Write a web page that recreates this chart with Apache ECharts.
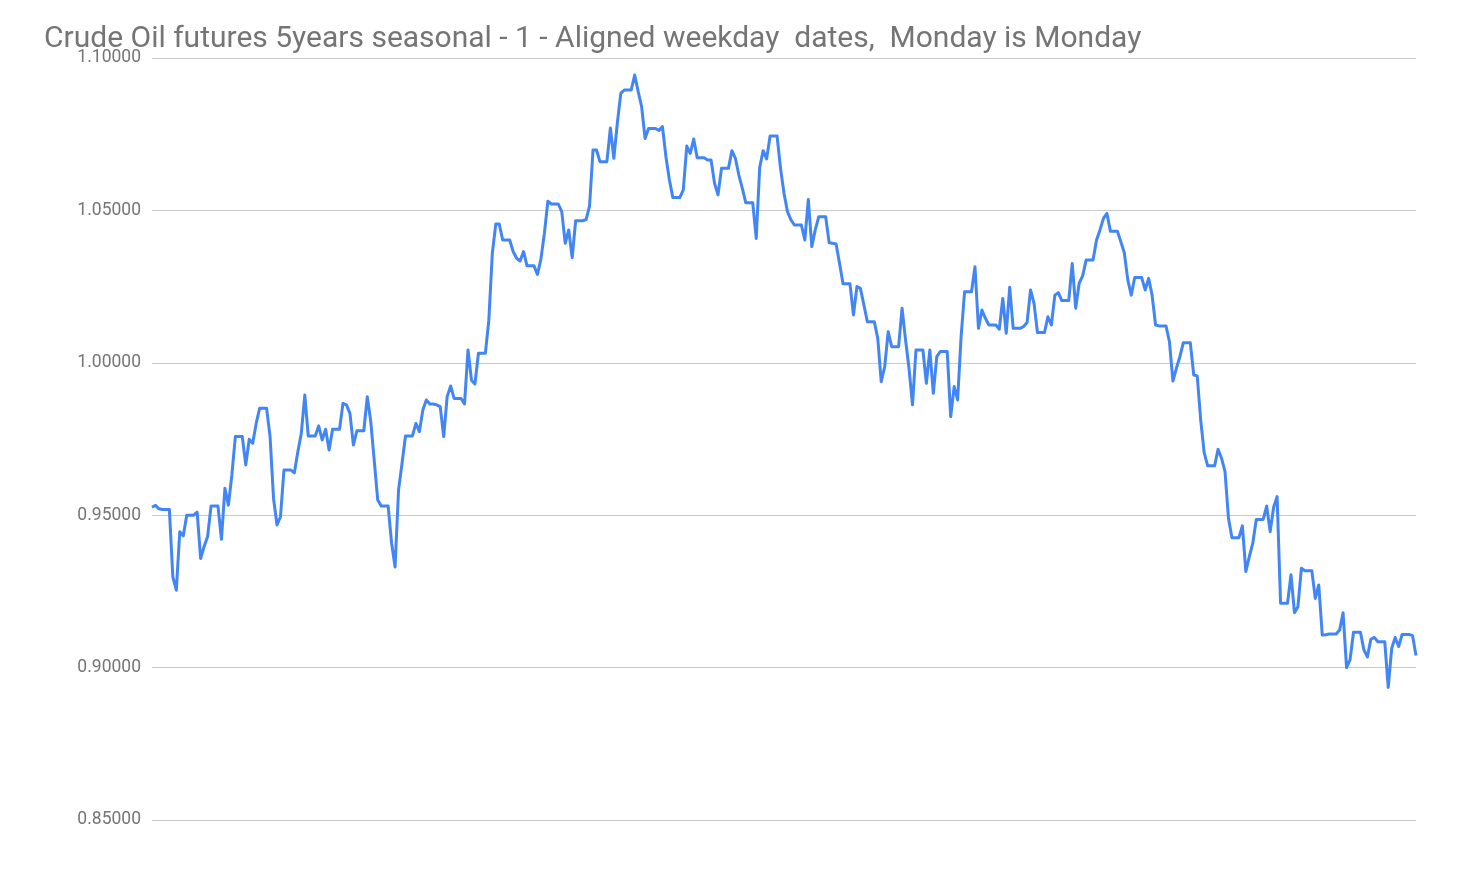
<!DOCTYPE html>
<html>
<head>
<meta charset="utf-8">
<script src="https://cdn.jsdelivr.net/npm/echarts@6/dist/echarts.min.js"></script>
<style>
html,body{margin:0;padding:0;background:#fff;}
#chart{width:1463px;height:896px;}
</style>
</head>
<body>
<div id="chart"></div>
<script>
var titleText = 'Crude Oil futures 5years seasonal - 1 - Aligned weekday  dates,  Monday is Monday';
var yTicks = [0.85, 0.90, 0.95, 1.00, 1.05, 1.10];
var seasonal = [
0.9526,0.9532,0.9521,0.9519,0.9519,0.9519,0.9298,
0.9254,0.9446,0.9432,0.9500,0.9500,0.9500,0.9510,
0.9358,0.9397,0.9429,0.9530,0.9530,0.9530,0.9421,
0.9588,0.9533,0.9632,0.9758,0.9758,0.9758,0.9665,
0.9749,0.9736,0.9801,0.9851,0.9851,0.9851,0.9758,
0.9555,0.9468,0.9495,0.9648,0.9648,0.9648,0.9639,
0.9708,0.9769,0.9894,0.9760,0.9760,0.9760,0.9793,
0.9747,0.9782,0.9714,0.9782,0.9782,0.9782,0.9867,
0.9862,0.9834,0.9730,0.9777,0.9777,0.9777,0.9889,
0.9807,0.9679,0.9550,0.9530,0.9530,0.9530,0.9408,
0.9330,0.9583,0.9670,0.9760,0.9760,0.9760,0.9801,
0.9774,0.9845,0.9878,0.9865,0.9865,0.9862,0.9856,
0.9758,0.9889,0.9924,0.9883,0.9883,0.9883,0.9865,
1.0042,0.9943,0.9930,1.0031,1.0031,1.0031,1.0140,
1.0359,1.0455,1.0455,1.0403,1.0403,1.0403,1.0365,
1.0343,1.0334,1.0365,1.0318,1.0318,1.0318,1.0290,
1.0340,1.0425,1.0530,1.0521,1.0521,1.0521,1.0496,
1.0392,1.0436,1.0345,1.0466,1.0466,1.0466,1.0470,
1.0514,1.0698,1.0698,1.0660,1.0660,1.0660,1.0770,
1.0671,1.0786,1.0884,1.0895,1.0895,1.0895,1.0944,
1.0890,1.0840,1.0736,1.0769,1.0769,1.0769,1.0762,
1.0775,1.0676,1.0600,1.0542,1.0542,1.0542,1.0567,
1.0711,1.0687,1.0734,1.0673,1.0673,1.0673,1.0665,
1.0665,1.0589,1.0551,1.0638,1.0638,1.0638,1.0696,
1.0671,1.0616,1.0572,1.0525,1.0525,1.0525,1.0408,
1.0641,1.0696,1.0669,1.0744,1.0744,1.0744,1.0638,
1.0556,1.0496,1.0469,1.0452,1.0452,1.0452,1.0403,
1.0536,1.0381,1.0436,1.0479,1.0479,1.0479,1.0394,
1.0392,1.0390,1.0326,1.0259,1.0259,1.0259,1.0157,
1.0250,1.0244,1.0190,1.0135,1.0135,1.0135,1.0080,
0.9938,0.9987,1.0102,1.0053,1.0053,1.0053,1.0179,
1.0075,0.9982,0.9862,1.0042,1.0042,1.0042,0.9933,
1.0042,0.9900,1.0020,1.0037,1.0037,1.0037,0.9823,
0.9922,0.9878,1.0086,1.0233,1.0233,1.0233,1.0315,
1.0113,1.0173,1.0146,1.0124,1.0124,1.0124,1.0110,
1.0211,1.0097,1.0248,1.0113,1.0113,1.0113,1.0119,
1.0132,1.0239,1.0195,1.0099,1.0099,1.0099,1.0151,
1.0124,1.0222,1.0230,1.0204,1.0204,1.0204,1.0326,
1.0179,1.0261,1.0285,1.0337,1.0337,1.0337,1.0403,
1.0436,1.0474,1.0490,1.0432,1.0432,1.0432,1.0397,
1.0361,1.0272,1.0222,1.0280,1.0280,1.0280,1.0239,
1.0277,1.0222,1.0124,1.0121,1.0121,1.0121,1.0069,
0.9940,0.9982,1.0020,1.0066,1.0066,1.0066,0.9960,
0.9957,0.9812,0.9705,0.9662,0.9662,0.9662,0.9716,
0.9687,0.9643,0.9490,0.9426,0.9426,0.9426,0.9465,
0.9315,0.9364,0.9408,0.9486,0.9486,0.9486,0.9530,
0.9446,0.9526,0.9561,0.9211,0.9211,0.9211,0.9305,
0.9180,0.9200,0.9326,0.9318,0.9318,0.9318,0.9227,
0.9271,0.9107,0.9108,0.9110,0.9110,0.9110,0.9123,
0.9180,0.9000,0.9025,0.9116,0.9116,0.9116,0.9058,
0.9035,0.9093,0.9099,0.9085,0.9085,0.9085,0.8935,
0.9063,0.9099,0.9069,0.9109,0.9109,0.9109,0.9105,
0.9040
];
var days = seasonal.map(function(v, i){ return 'Day ' + (i + 1); });

var chart = echarts.init(document.getElementById('chart'), null, {renderer: 'canvas'});
chart.setOption({
  animation: false,
  backgroundColor: '#ffffff',
  title: {
    text: titleText,
    left: 39,
    top: 19,
    textStyle: {fontFamily: 'Roboto', fontSize: 30, fontWeight: 'normal', color: '#757575'}
  },
  grid: {left: 152, right: 47, top: 58, bottom: 76, containLabel: false},
  xAxis: {
    type: 'category',
    data: days,
    boundaryGap: false,
    axisLine: {show: false},
    axisTick: {show: false},
    axisLabel: {show: false},
    splitLine: {show: false}
  },
  yAxis: {
    type: 'value',
    min: yTicks[0],
    max: yTicks[yTicks.length - 1],
    interval: 0.05,
    axisLine: {show: false},
    axisTick: {show: false},
    axisLabel: {
      margin: 11,
      fontFamily: 'Roboto',
      fontSize: 17.5,
      color: '#757575',
      padding: [3, 0, 0, 0],
      formatter: function(v){ return v.toFixed(5); }
    },
    splitLine: {lineStyle: {color: '#cccccc', width: 1}}
  },
  series: [{
    type: 'line',
    data: seasonal,
    showSymbol: false,
    symbol: 'none',
    lineStyle: {color: '#4285F4', width: 3, join: 'round'},
    itemStyle: {color: '#4285F4'}
  }]
});
</script>
</body>
</html>
